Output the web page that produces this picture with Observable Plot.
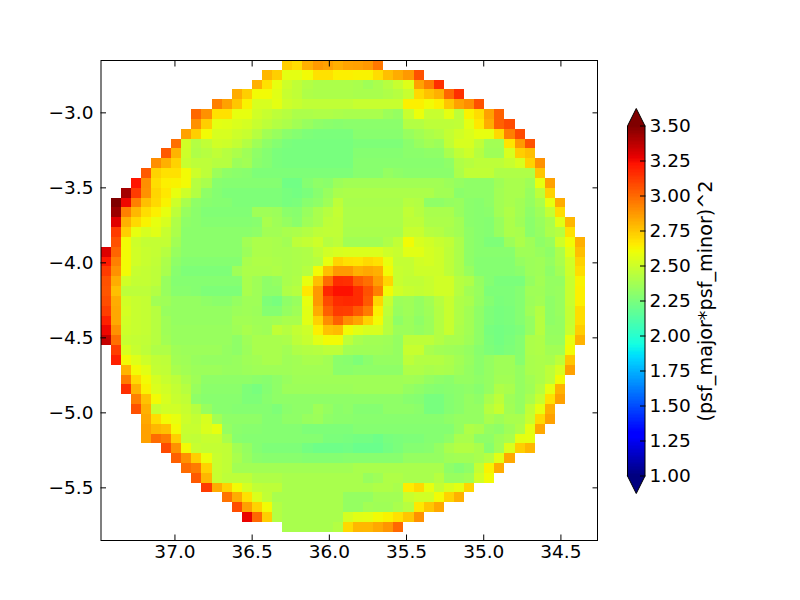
<!DOCTYPE html>
<html>
<head>
<meta charset="utf-8">
<script src="https://cdn.jsdelivr.net/npm/d3@7"></script>
<script src="https://cdn.jsdelivr.net/npm/@observablehq/plot@0.6"></script>
<style>
html,body{margin:0;padding:0;background:#fff}
#fig{position:relative;width:800px;height:600px;overflow:hidden}
#fig svg{position:absolute;overflow:visible}
</style>
</head>
<body>
<div id="fig"></div>
<script>
// Each row: first number = index of first filled column, then value*100 per cell.
const gridRows = [
[18,273,269,281,287,285,281,284,285,287,296],
[16,279,273,257,257,261,268,268,264,264,263,263,269,277,282,287,306],
[15,281,268,258,250,246,242,240,240,240,240,239,236,239,243,248,255,285,295,315],
[13,282,273,261,261,256,248,246,241,240,240,240,240,239,239,239,241,243,248,270,276,281,300,315],
[11,294,285,275,263,253,253,257,250,248,246,246,246,246,246,248,248,248,248,248,264,264,261,264,275,285,290,306],
[9,300,289,268,268,258,258,251,248,245,243,240,240,241,241,240,239,239,239,239,235,233,248,259,248,248,257,245,263,269,285,302],
[9,289,273,257,256,254,252,248,245,242,240,237,234,231,230,229,230,230,230,230,230,230,242,242,245,245,245,246,257,266,282,302,308],
[8,285,273,261,253,253,250,248,243,237,234,230,228,226,225,225,225,225,229,229,229,229,229,234,237,240,242,247,251,254,258,258,270,294,308],
[7,298,251,242,246,251,250,247,242,236,231,228,225,224,224,224,224,224,224,226,226,226,226,226,230,234,237,235,246,253,253,246,237,237,267,287,306],
[6,304,280,250,241,243,246,243,240,236,231,228,225,224,224,224,224,224,224,224,228,228,228,228,228,230,230,231,231,239,246,250,243,236,236,253,273,277],
[5,290,281,272,248,245,245,243,243,235,237,230,228,225,224,224,224,224,224,224,224,229,229,229,229,229,229,229,229,229,231,241,243,245,245,245,248,253,272,289],
[4,304,272,268,268,261,250,245,235,231,230,229,226,226,226,226,226,226,226,226,226,226,229,229,229,233,231,230,230,230,230,230,240,246,246,246,241,241,241,241,275],
[3,322,290,269,264,263,261,243,239,229,228,228,228,228,228,228,222,222,228,231,230,235,237,237,237,237,237,237,237,237,237,237,235,233,231,231,231,236,239,239,236,258,285],
[2,342,312,289,271,266,258,250,242,231,228,226,226,226,226,226,226,224,223,225,229,234,239,240,240,240,240,240,240,240,240,240,237,237,230,231,231,231,237,239,239,234,245,272],
[1,350,326,294,277,270,263,250,239,231,229,228,228,226,226,226,226,226,224,225,229,231,236,245,239,239,239,239,239,239,243,242,231,231,233,234,230,229,231,237,239,237,233,239,258,282],
[1,344,294,279,269,264,258,245,234,230,227,227,227,227,227,236,236,235,230,229,234,239,243,247,240,240,240,240,240,240,246,243,239,239,239,234,230,229,230,237,241,237,231,236,247,269],
[1,329,281,270,263,258,253,241,231,230,228,228,228,228,228,229,239,236,233,230,236,239,245,246,240,240,240,240,240,240,245,245,240,240,240,237,230,229,228,234,240,236,230,234,239,256,279],
[1,312,273,258,253,256,248,240,230,230,230,230,230,230,230,231,237,237,239,240,242,245,246,246,239,239,239,239,239,239,248,248,243,242,239,237,231,229,228,234,240,239,230,233,240,243,268],
[1,306,261,250,247,247,247,237,230,230,230,230,230,230,237,240,240,239,237,245,247,250,243,245,237,237,237,237,241,246,261,253,251,248,246,240,231,229,226,226,235,240,236,231,234,250,261,281],
[0,330,301,261,251,248,247,243,234,230,230,230,230,230,230,235,240,240,239,239,240,241,246,251,253,254,254,254,254,250,248,256,256,252,250,245,240,231,229,229,229,229,236,236,234,231,240,256,277],
[0,321,294,261,251,248,246,240,231,228,228,228,228,228,228,239,241,241,240,239,240,241,243,258,271,268,267,270,268,258,247,247,251,252,250,245,240,231,228,228,228,228,233,235,236,233,239,251,272],
[0,312,289,261,248,247,245,239,229,226,226,226,226,226,236,240,240,240,241,239,240,243,261,277,287,287,281,283,281,261,248,247,250,250,250,245,240,234,228,228,228,228,230,235,236,231,237,250,269],
[0,306,282,251,247,247,245,234,228,228,228,228,228,228,228,239,236,231,233,239,241,258,277,299,316,315,303,298,286,271,248,246,246,248,251,251,243,241,233,228,225,225,225,233,237,233,233,248,263],
[0,305,277,245,245,245,242,234,229,229,228,226,226,226,226,239,236,231,231,241,243,266,287,317,323,323,316,306,294,261,251,248,247,248,251,251,243,237,234,226,226,226,228,236,236,233,234,248,264],
[0,307,282,251,248,247,237,236,233,233,233,231,230,230,233,236,236,226,224,231,234,258,287,308,316,317,316,304,271,248,235,236,233,237,243,248,241,239,233,228,225,226,228,235,237,231,234,248,264],
[0,311,283,252,248,247,243,234,233,233,233,233,233,233,235,236,235,228,228,233,236,256,282,302,312,311,304,295,264,245,234,236,233,236,242,248,241,237,231,226,224,225,228,236,242,231,234,247,269],
[0,319,283,251,248,247,243,236,233,233,233,233,233,233,237,237,236,236,237,239,239,256,272,290,302,290,284,272,261,243,231,235,231,235,242,248,241,237,231,226,224,225,228,233,243,231,233,247,269],
[0,326,289,250,248,247,243,236,234,234,234,234,234,234,236,239,237,236,246,243,247,250,264,276,278,261,256,253,253,243,235,235,233,235,242,248,240,237,231,224,223,224,226,233,243,233,233,248,273],
[0,335,298,248,247,246,243,237,234,234,234,234,234,234,231,236,239,239,239,240,245,248,256,261,261,245,239,237,237,236,233,245,245,245,242,239,239,236,231,225,223,225,228,240,241,234,234,258,280],
[1,311,253,248,245,241,241,236,235,235,235,235,233,231,235,239,239,239,237,241,242,243,245,245,237,236,236,236,235,233,248,248,239,237,236,235,233,229,226,224,226,228,240,241,237,237,261],
[1,319,261,255,250,246,245,237,236,234,233,233,233,234,236,237,239,239,236,237,239,239,237,230,229,226,230,233,233,233,245,242,242,242,240,237,234,230,233,236,236,229,239,240,239,245,275],
[2,280,261,256,247,246,239,237,235,235,235,234,234,235,236,236,236,236,237,237,237,237,230,230,231,231,231,231,231,241,241,239,240,239,236,233,230,233,236,236,233,239,240,245,253,285],
[2,295,270,261,252,248,245,240,236,231,231,231,231,231,230,229,231,234,236,236,236,236,236,236,236,236,236,236,236,237,236,233,231,230,233,233,231,233,237,237,233,237,240,245,261],
[2,315,280,263,254,251,247,243,234,230,230,230,230,226,224,228,231,235,235,235,235,235,235,235,236,236,236,236,236,233,231,229,228,229,230,231,229,233,241,239,233,236,243,258,280],
[3,294,276,261,253,248,246,231,229,229,229,229,226,226,229,231,231,231,231,231,231,231,231,231,231,231,231,231,229,228,224,224,228,230,233,231,239,245,236,233,239,248,268,285],
[3,306,281,248,251,251,248,243,234,229,229,228,228,228,228,226,230,231,231,236,233,230,231,228,228,228,231,231,231,230,224,224,228,230,233,233,243,248,237,233,246,258,281],
[4,283,269,261,258,250,247,253,237,231,231,231,231,228,228,231,231,234,235,231,230,230,229,229,229,229,229,229,229,229,229,231,233,233,233,239,236,239,239,248,270,285],
[4,285,279,277,261,248,248,254,258,233,230,229,229,228,228,228,228,226,226,226,226,226,228,228,228,228,228,228,228,228,228,228,233,241,239,233,231,236,241,257,283],
[4,285,299,295,273,247,246,248,248,239,229,228,228,228,228,228,228,228,228,225,225,224,223,223,221,224,225,226,226,228,228,231,239,239,231,231,236,239,257,258],
[6,308,289,261,248,247,247,246,237,233,228,226,226,226,226,223,221,221,221,222,220,220,220,223,225,228,228,229,233,239,242,242,239,229,237,254,273,279],
[7,302,289,273,259,248,246,239,234,230,229,229,229,229,228,228,228,228,229,229,229,229,229,229,233,233,233,233,236,237,237,239,243,256,283],
[8,299,295,272,248,246,237,237,237,237,237,237,237,237,237,237,237,237,239,239,239,239,239,239,239,239,239,231,228,231,247,263,282],
[9,304,279,248,245,245,245,241,241,241,239,239,239,239,239,239,239,239,234,236,241,241,239,239,239,243,234,234,236,251,261],
[10,312,282,272,261,252,246,245,245,239,239,239,239,239,239,239,239,239,241,241,239,265,270,258,247,253,257,271],
[12,297,282,268,254,246,239,239,239,239,239,239,239,233,233,233,237,237,237,248,251,251,261,272,281],
[13,307,285,272,261,242,239,239,239,239,239,239,233,233,237,236,236,239,243,266,275,283],
[14,327,300,273,242,239,239,239,239,239,239,252,256,257,261,263,268,275,289],
[18,239,239,239,239,239,242,270,279,279,283,288,300]
];
const xOrigin = 37.479, xStep = 0.06541, yOrigin = -2.651, yStep = 0.06553;
const xDomain = [37.479, 34.263];
const yDomain = [-5.851, -2.651];
const xTicks = [37.0, 36.5, 36.0, 35.5, 35.0, 34.5];
const yTicks = [-3.0, -3.5, -4.0, -4.5, -5.0, -5.5];
const barTicks = [1.00, 1.25, 1.50, 1.75, 2.00, 2.25, 2.50, 2.75, 3.00, 3.25, 3.50];
const barLabel = "(psf_major*psf_minor)^2";
// jet colour map stops, on the value axis
const jetValues = [1, 1.275, 1.3125, 1.85, 1.875, 1.9375, 2.6, 2.625, 2.65, 3.225, 3.275, 3.5];
const jetColors = ["#00007f","#0000ff","#0000ff","#00dbff","#00e6f7","#14ffe2","#eeff08","#f7f500","#ffec00","#ff1300","#e80000","#7f0000"];

const cells = gridRows.flatMap((row, r) =>
  row.slice(1).map((v, i) => {
    const c = row[0] + i;
    return {
      x1: xOrigin - c * xStep, x2: xOrigin - (c + 1) * xStep,
      y1: yOrigin - r * yStep, y2: yOrigin - (r + 1) * yStep,
      v: v / 100
    };
  })
);

const color = {type: "linear", domain: jetValues, range: jetColors, interpolate: "rgb", clamp: true};
const tickSizePx = 18.5;
const labelSizePx = 19.2;
const font = {fontFamily: "'DejaVu Sans'", fontSize: tickSizePx + "px", color: "#000", background: "transparent"};
const minus = (s) => s.replace("-", "\u2212");

const main = Plot.plot({
  width: 620, height: 590,
  marginLeft: 100.5, marginRight: 23, marginTop: 60, marginBottom: 50,
  style: font,
  x: {domain: xDomain},
  y: {domain: yDomain},
  color,
  marks: [
    Plot.rect(cells, {x1: "x1", x2: "x2", y1: "y1", y2: "y2", fill: "v", shapeRendering: "crispEdges"}),
    Plot.frame({stroke: "#000", strokeWidth: 1}),
    Plot.axisX(xTicks, {anchor: "bottom", tickSize: -5.5, tickPadding: 10, label: null, fontSize: tickSizePx, tickFormat: (d) => d.toFixed(1), stroke: "#000", fill: "#000"}),
    Plot.axisX(xTicks, {anchor: "top", tickSize: -5.5, text: null, label: null, stroke: "#000"}),
    Plot.axisY(yTicks, {anchor: "left", tickSize: -5.5, tickPadding: 13, label: null, fontSize: tickSizePx, tickFormat: (d) => minus(d.toFixed(1)), stroke: "#000", fill: "#000"}),
    Plot.axisY(yTicks, {anchor: "right", tickSize: -5.5, text: null, label: null, stroke: "#000"})
  ]
});
main.style.left = "0px"; main.style.top = "0px";

const barStep = 2.5 / 250;
const barCells = d3.range(250).map((i) => ({y1: 1 + i * barStep, y2: 1 + (i + 1) * barStep, v: 1 + (i + 0.5) * barStep}));
const outline = [[0,1],[0,3.5],[0.5,3.625],[1,3.5],[1,1],[0.5,0.875],[0,1]];
const capTop = [[0,3.5],[0.5,3.625],[1,3.5]];
const capBottom = [[0,1],[0.5,0.875],[1,1]];

const bar = Plot.plot({
  width: 104.5, height: 401,
  marginLeft: 7, marginRight: 80, marginTop: 8, marginBottom: 8,
  style: font,
  x: {domain: [0, 1], axis: null},
  y: {domain: [0.875, 3.625]},
  color,
  marks: [
    Plot.rect(barCells, {x1: 0, x2: 1, y1: "y1", y2: "y2", fill: "v", shapeRendering: "crispEdges"}),
    Plot.line(capTop, {fill: jetColors[11], stroke: "none"}),
    Plot.line(capBottom, {fill: jetColors[0], stroke: "none"}),
    Plot.line(outline, {stroke: "#000", strokeWidth: 1, curve: "linear"}),
    Plot.axisY(barTicks, {anchor: "right", tickSize: -5.5, tickPadding: 10, label: null, fontSize: tickSizePx, tickFormat: (d) => d.toFixed(2), stroke: "#000", fill: "#000"}),
    Plot.text([barLabel], {frameAnchor: "right", dx: 60.5, rotate: -90, textAnchor: "middle", fontSize: labelSizePx, fill: "#000", stroke: "none"})
  ]
});
bar.style.left = "620px"; bar.style.top = "99.5px";

document.getElementById("fig").append(main, bar);
</script>
</body>
</html>
